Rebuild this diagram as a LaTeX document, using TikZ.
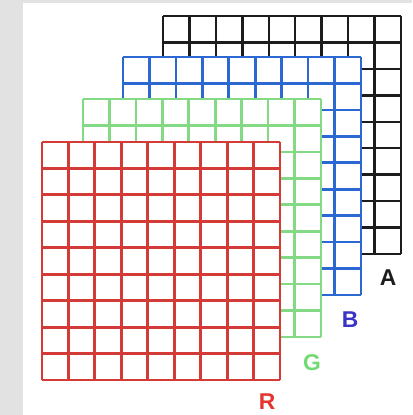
\documentclass[tikz,border=0pt]{standalone}
\usepackage{fontspec}
\setsansfont{Liberation Sans}
\usetikzlibrary{positioning, calc}
\definecolor{channelred}{HTML}{D43A36}
\definecolor{channelgreen}{HTML}{84DA84}
\definecolor{channelblue}{HTML}{2C68D2}
\definecolor{channelalpha}{HTML}{1C1C1C}
\definecolor{labelblue}{HTML}{3A34C6}
\definecolor{labelgreen}{HTML}{72DA72}
\definecolor{labelred}{HTML}{E4352F}
\definecolor{pagegrey}{HTML}{E2E2E2}

% one 9 x 9 channel plane, top left corner at (#2,#3)
\newcommand{\channelplane}[4]{%
    \fill[white] (#2,#3) rectangle ++(238,238);
    \foreach \k in {0,...,9} {
        \draw[#1, line width=#4]
            ($(#2,#3)+(\k*238/9,0)$) -- ++(0,238);
        \draw[#1, line width=#4]
            ($(#2,#3)+(0,\k*238/9)$) -- ++(238,0);
    }%
}

\begin{document}
\begin{tikzpicture}[
        x=0.02cm,
        y=-0.02cm,
        channellabel/.style={
            font=\sffamily\bfseries\fontsize{13}{15}\selectfont,
            inner sep=0pt
        }
    ]
    \useasboundingbox (0,0) rectangle (412,415);

    % ---------------------------------------------------------------------
    % Page background
    % ---------------------------------------------------------------------

    \fill[pagegrey] (0,0) rectangle (412,415);
    \fill[white] (23,3) rectangle (412,415);

    % ---------------------------------------------------------------------
    % Channel planes, back to front
    % ---------------------------------------------------------------------

    \channelplane{channelalpha}{163}{16}{1.4pt}
    \channelplane{channelblue}{123}{57}{1.5pt}
    \channelplane{channelgreen}{83}{99}{1.5pt}
    \channelplane{channelred}{42}{142}{1.7pt}

    % ---------------------------------------------------------------------
    % Labels
    % ---------------------------------------------------------------------

    \node[channellabel, text=channelalpha] (labelA) at (388,278) {A};
    \node[channellabel, text=labelblue] (labelB) at (350,320) {B};
    \node[channellabel, text=labelgreen] (labelG) at (312,363) {G};
    \node[channellabel, text=labelred] (labelR) at (267,402) {R};

\end{tikzpicture}
\end{document}
